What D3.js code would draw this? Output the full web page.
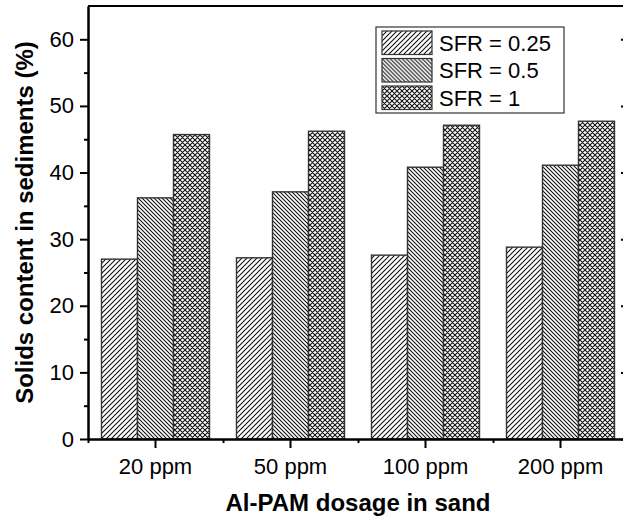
<!DOCTYPE html>
<html>
<head>
<meta charset="utf-8">
<script src="https://cdn.jsdelivr.net/npm/d3@7"></script>
<style>
  body { margin: 0; background: #fff; }
  svg { display: block; font-family: "Liberation Sans", Arial, sans-serif; }
</style>
</head>
<body>
<div id="chart"></div>
<script>
// chart values
var categories = ['20 ppm', '50 ppm', '100 ppm', '200 ppm']
var seriesNames = ['SFR = 0.25', 'SFR = 0.5', 'SFR = 1']
var sfr025 = [27.0, 27.2, 27.6, 28.8]
var sfr05 = [36.2, 37.1, 40.8, 41.1]
var sfr1 = [45.7, 46.2, 47.1, 47.7]
var yTicks = [0, 10, 20, 30, 40, 50, 60]
var yMinorTicks = [5, 15, 25, 35, 45, 55]

var width = 623, height = 520
var margin = { left: 88, right: -5, top: 6, bottom: 81 }

var svg = d3.select('#chart')
    .append('svg')
    .attr('width', width)
    .attr('height', height)

var defs = svg.append('defs')

// hatch patterns
var p1 = defs.append('pattern')
    .attr('id', 'hatchFwd')
    .attr('patternUnits', 'userSpaceOnUse')
    .attr('width', 5).attr('height', 5)
p1.append('rect').attr('width', 5).attr('height', 5).attr('fill', '#fff')
p1.append('path').attr('d', 'M-1,1 L1,-1 M0,5 L5,0 M4,6 L6,4')
    .attr('stroke', '#111').attr('stroke-width', 1.1)

var p2 = defs.append('pattern')
    .attr('id', 'hatchBack')
    .attr('patternUnits', 'userSpaceOnUse')
    .attr('width', 4).attr('height', 4)
p2.append('rect').attr('width', 4).attr('height', 4).attr('fill', '#fff')
p2.append('path').attr('d', 'M-1,3 L1,5 M0,0 L4,4 M3,-1 L5,1')
    .attr('stroke', '#111').attr('stroke-width', 1.1)

var p3 = defs.append('pattern')
    .attr('id', 'crossHatch')
    .attr('patternUnits', 'userSpaceOnUse')
    .attr('width', 5).attr('height', 5)
p3.append('rect').attr('width', 5).attr('height', 5).attr('fill', '#fff')
p3.append('path').attr('d', 'M0,0 L5,5 M-1,4 L1,6 M4,-1 L6,1 M0,5 L5,0 M-1,1 L1,-1 M4,6 L6,4')
    .attr('stroke', '#111').attr('stroke-width', 1.1)

var fills = ['url(#hatchFwd)', 'url(#hatchBack)', 'url(#crossHatch)']
var series = [sfr025, sfr05, sfr1]

var x0 = margin.left, x1 = width - margin.right
var yTop = margin.top, yBot = height - margin.bottom

var x = d3.scaleBand()
    .domain(categories)
    .range([x0, x1])
    .paddingInner(0.2)
    .paddingOuter(0.1)

var xs = d3.scaleBand()
    .domain(d3.range(seriesNames.length))
    .range([0, x.bandwidth()])

var y = d3.scaleLinear()
    .domain([0, 65])
    .range([yBot, yTop])

// bars
categories.forEach(function(c, i) {
    series.forEach(function(s, j) {
        svg.append('rect')
            .attr('class', 'bar')
            .attr('x', x(c) + xs(j))
            .attr('y', y(s[i]))
            .attr('width', xs.bandwidth())
            .attr('height', y(0) - y(s[i]))
            .attr('fill', fills[j])
            .attr('stroke', '#333')
            .attr('stroke-width', 1.4)
    })
})

// left axis
var yAxis = svg.append('g')
    .attr('transform', 'translate(' + x0 + ',0)')
    .call(d3.axisLeft(y).tickValues(yTicks).tickSize(8).tickPadding(6).tickSizeOuter(0))
yAxis.selectAll('text').style('font-size', '22px').attr('fill', '#000')

svg.append('g')
    .attr('transform', 'translate(' + x0 + ',0)')
    .call(d3.axisLeft(y).tickValues(yMinorTicks).tickSize(4).tickFormat('').tickSizeOuter(0))

// right axis (inward ticks)
svg.append('g')
    .attr('transform', 'translate(' + x1 + ',0)')
    .call(d3.axisRight(y).tickValues(yTicks).tickSize(-7).tickFormat('').tickSizeOuter(0))

// bottom axis
var xAxis = svg.append('g')
    .attr('transform', 'translate(0,' + yBot + ')')
    .call(d3.axisBottom(x).tickSize(9).tickPadding(10).tickSizeOuter(0))
xAxis.selectAll('text').style('font-size', '22px').attr('fill', '#000')

var xb = d3.scaleLinear().domain([0, categories.length]).range([x0, x1])
svg.append('g')
    .attr('transform', 'translate(0,' + yBot + ')')
    .call(d3.axisBottom(xb).tickValues(d3.range(categories.length + 1)).tickSize(4).tickFormat('').tickSizeOuter(0))

// top line
svg.append('line')
    .attr('x1', x0).attr('x2', x1)
    .attr('y1', yTop).attr('y2', yTop)
    .attr('stroke', '#000').attr('stroke-width', 2)

svg.selectAll('.domain').attr('stroke', '#000').attr('stroke-width', 2)
svg.selectAll('.tick line').attr('stroke', '#000').attr('stroke-width', 2)

// axis titles
svg.append('text')
    .attr('x', (x0 + x1) / 2)
    .attr('y', 511)
    .attr('text-anchor', 'middle')
    .style('font-size', '24px')
    .style('font-weight', 'bold')
    .text('Al-PAM dosage in sand')

svg.append('text')
    .attr('transform', 'translate(33,' + (yTop + yBot) / 2 + ') rotate(-90)')
    .attr('text-anchor', 'middle')
    .style('font-size', '24px')
    .style('font-weight', 'bold')
    .text('Solids content in sediments (%)')

// legend
var legend = svg.append('g').attr('transform', 'translate(376,27)')
legend.append('rect')
    .attr('width', 188).attr('height', 86)
    .attr('fill', '#fff').attr('stroke', '#333').attr('stroke-width', 1.2)

seriesNames.forEach(function(name, j) {
    var row = legend.append('g').attr('transform', 'translate(6,' + (4 + j * 27.5) + ')')
    row.append('rect')
        .attr('width', 50).attr('height', 23.5)
        .attr('fill', fills[j]).attr('stroke', '#333').attr('stroke-width', 1.2)
    row.append('text')
        .attr('x', 57).attr('y', 12)
        .attr('dy', '0.35em')
        .style('font-size', '22px')
        .text(name)
})
</script>
</body>
</html>
